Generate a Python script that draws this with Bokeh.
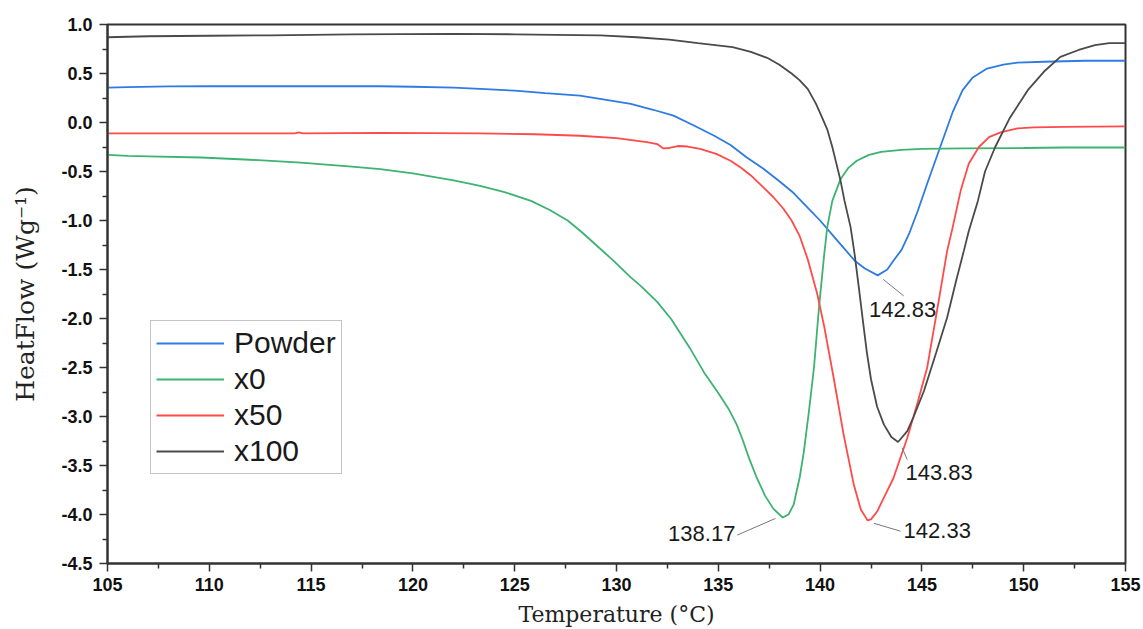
from bokeh.plotting import figure
from bokeh.models import FixedTicker, Range1d, ColumnDataSource
from bokeh.core.properties import value
from bokeh.embed import file_html
from bokeh.resources import INLINE

# ---------------- data ----------------
powder_t = [105, 106, 108, 110, 115, 118.4, 120, 122, 123.3, 125, 126.5, 128.2, 129.5, 130.7, 131.8,
            132.8, 133.8, 134.8, 135.6, 136.4, 137.2, 138.0, 138.7, 139.4, 140.0, 140.7, 141.2, 141.7,
            142.2, 142.83, 143.3, 143.6, 144.0, 144.4, 144.8, 145.3, 145.9, 146.5, 147.0, 147.5, 148.2,
            149.0, 149.7, 151, 152, 153, 155]
powder_v = [0.355, 0.36, 0.368, 0.37, 0.37, 0.37, 0.365, 0.355, 0.343, 0.325, 0.30, 0.274, 0.23, 0.19, 0.13,
            0.07, -0.03, -0.135, -0.23, -0.357, -0.47, -0.60, -0.72, -0.87, -1.00, -1.17, -1.29, -1.41,
            -1.49, -1.56, -1.50, -1.41, -1.30, -1.12, -0.90, -0.60, -0.25, 0.10, 0.33, 0.46, 0.55,
            0.59, 0.61, 0.62, 0.625, 0.63, 0.63]

x0_t = [105, 106, 107, 109.6, 112, 114.5, 117, 118.4, 120, 122, 123.3, 124.5, 125.8, 126.7, 127.6, 128.3,
        129.05, 129.9, 130.7, 131.2, 132.0, 132.7, 133.6, 134.3, 135.0, 135.5, 135.9, 136.2, 136.5, 136.9,
        137.3, 137.7, 138.0, 138.17, 138.45, 138.7, 139.0, 139.2, 139.45, 139.7, 139.94, 140.2, 140.35,
        140.6, 141.0, 141.4, 141.8, 142.4, 143.0, 144.0, 145, 147, 150, 152, 155]
x0_v = [-0.33, -0.34, -0.345, -0.357, -0.38, -0.41, -0.45, -0.475, -0.52, -0.59, -0.646, -0.71, -0.80, -0.89,
        -1.00, -1.12, -1.26, -1.42, -1.58, -1.67, -1.83, -2.01, -2.30, -2.55, -2.76, -2.92, -3.08, -3.24,
        -3.42, -3.63, -3.81, -3.94, -4.00, -4.03, -4.00, -3.90, -3.62, -3.36, -2.95, -2.50, -1.90, -1.35,
        -1.07, -0.80, -0.58, -0.46, -0.39, -0.33, -0.30, -0.28, -0.27, -0.265, -0.26, -0.255, -0.255]

x50_t = [105, 110, 114.2, 114.4, 114.6, 118.4, 123.3, 126, 128.2, 130, 131.5, 132.0, 132.3, 132.6, 133.0,
         133.5, 134.1, 134.9, 135.6, 136.1, 136.6, 137.2, 137.7, 138.2, 138.6, 139.0, 139.4, 139.86, 140.2,
         140.67, 141.16, 141.66, 142.0, 142.33, 142.5, 142.8, 143.2, 143.6, 144.28, 144.8, 145.26,
         145.8, 146.24, 146.5, 146.9, 147.3, 147.8, 148.3, 148.86, 149.7, 150.5, 152, 155]
x50_v = [-0.11, -0.11, -0.11, -0.10, -0.11, -0.105, -0.11, -0.12, -0.135, -0.16, -0.20, -0.22, -0.265, -0.26,
         -0.24, -0.245, -0.27, -0.32, -0.39, -0.46, -0.54, -0.66, -0.76, -0.88, -1.00, -1.16, -1.40, -1.75,
         -2.08, -2.61, -3.19, -3.70, -3.95, -4.06, -4.05, -3.97, -3.80, -3.63, -3.22, -2.85, -2.50,
         -1.85, -1.31, -1.08, -0.70, -0.42, -0.25, -0.15, -0.10, -0.06, -0.05, -0.045, -0.04]

x100_t = [105, 106, 107, 110, 113, 117, 122, 125, 127, 129.2, 131, 132.6, 134, 135.7, 136.6, 137.4, 138.0,
          138.6, 139.0, 139.4, 139.8, 140.1, 140.35, 140.6, 140.8, 141.0, 141.2, 141.5, 141.7, 141.9, 142.1,
          142.3, 142.5, 142.8, 143.13, 143.5, 143.83, 144.28, 144.6, 145.1, 145.7, 146.24, 146.7, 147.06,
          147.3, 147.75, 148.1, 148.6, 149.3, 150.2, 151.0, 151.8, 152.7, 153.5, 154.2, 155]
x100_v = [0.87, 0.875, 0.88, 0.885, 0.89, 0.90, 0.905, 0.90, 0.895, 0.89, 0.87, 0.845, 0.81, 0.77, 0.72, 0.66,
          0.59, 0.50, 0.43, 0.34, 0.19, 0.05, -0.07, -0.25, -0.42, -0.59, -0.80, -1.07, -1.35, -1.68, -2.02,
          -2.35, -2.62, -2.90, -3.08, -3.21, -3.26, -3.15, -3.00, -2.74, -2.35, -1.99, -1.60, -1.31,
          -1.11, -0.80, -0.50, -0.25, 0.04, 0.33, 0.52, 0.67, 0.74, 0.79, 0.81, 0.81]

series_names = ["Powder", "x0", "x50", "x100"]
series_colors = ["#2e7be3", "#3cb371", "#ff4a4a", "#4a4a4a"]

# peak annotations
peak_labels = ["142.83", "138.17", "142.33", "143.83"]
peak_t = [142.83, 138.17, 142.33, 143.83]
peak_v = [-1.56, -4.03, -4.06, -3.26]

x_ticks = [105, 110, 115, 120, 125, 130, 135, 140, 145, 150, 155]
x_tick_labels = ["105", "110", "115", "120", "125", "130", "135", "140", "145", "150", "155"]
y_ticks = [1.0, 0.5, 0.0, -0.5, -1.0, -1.5, -2.0, -2.5, -3.0, -3.5, -4.0, -4.5]
y_tick_labels = ["1.0", "0.5", "0.0", "-0.5", "-1.0", "-1.5", "-2.0", "-2.5", "-3.0", "-3.5", "-4.0", "-4.5"]

# ---------------- figure ----------------
W, H = 1143, 629
p = figure(width=W, height=H, output_backend="svg", toolbar_location=None,
           x_range=Range1d(105, 155), y_range=Range1d(-4.5, 1.0),
           min_border_left=107, min_border_right=18, min_border_top=24, min_border_bottom=66)
p.grid.visible = False
p.background_fill_color = "white"
p.border_fill_color = "white"
p.outline_line_color = "#333333"
p.outline_line_width = 2

p.xaxis.ticker = FixedTicker(ticks=x_ticks, minor_ticks=[t + 2.5 for t in x_ticks[:-1]])
p.yaxis.ticker = FixedTicker(ticks=y_ticks, minor_ticks=[t - 0.25 for t in y_ticks[:-1]])
p.xaxis.major_label_overrides = {t: l for t, l in zip(x_ticks, x_tick_labels)}
p.yaxis.major_label_overrides = {t: l for t, l in zip(y_ticks, y_tick_labels)}

for ax in (p.xaxis[0], p.yaxis[0]):
    ax.axis_line_color = "#333333"
    ax.axis_line_width = 2
    ax.major_tick_line_color = "#333333"
    ax.minor_tick_line_color = "#333333"
    ax.major_tick_line_width = 1.5
    ax.minor_tick_line_width = 1.5
    ax.major_tick_out = 8
    ax.major_tick_in = 0
    ax.minor_tick_out = 5
    ax.minor_tick_in = 0
    ax.major_label_text_font = "Liberation Sans"
    ax.major_label_text_font_style = "bold"
    ax.major_label_text_font_size = "18px"
    ax.major_label_text_color = "#111111"
    ax.axis_label_text_font = "DejaVu Serif"
    ax.axis_label_text_font_style = "normal"
    ax.axis_label_text_color = "#222222"

p.xaxis.axis_label = "Temperature (°C)"
p.yaxis.axis_label = "HeatFlow (Wg⁻¹)"
p.xaxis.axis_label_text_font_size = "22px"
p.yaxis.axis_label_text_font_size = "25px"
p.xaxis.major_label_standoff = 6
p.yaxis.major_label_standoff = 7
p.xaxis.axis_label_standoff = 8
p.yaxis.axis_label_standoff = 18

data = [(powder_t, powder_v), (x0_t, x0_v), (x50_t, x50_v), (x100_t, x100_v)]
for (t, v), name, col in zip(data, series_names, series_colors):
    p.line(t, v, line_color=col, line_width=1.8, legend_label=name)

# leader lines and labels (offsets relative to peaks, in data units)
lead_start_dx = [0.27, -0.36, 0.31, 0.20]
lead_start_dy = [-0.04, -0.01, -0.03, -0.06]
lead_end_dx = [1.28, -2.24, 1.62, 0.45]
lead_end_dy = [-0.21, -0.18, -0.11, -0.18]
label_dx = [1.22, -2.33, 1.77, 0.36]
label_dy = [-0.35, -0.16, -0.10, -0.31]
label_align = ["center", "right", "left", "left"]

x0s = [a + b for a, b in zip(peak_t, lead_start_dx)]
y0s = [a + b for a, b in zip(peak_v, lead_start_dy)]
x1s = [a + b for a, b in zip(peak_t, lead_end_dx)]
y1s = [a + b for a, b in zip(peak_v, lead_end_dy)]
p.segment(x0=x0s, y0=y0s, x1=x1s, y1=y1s, line_color="#777777", line_width=1)

lsrc = ColumnDataSource(dict(
    x=[a + b for a, b in zip(peak_t, label_dx)],
    y=[a + b for a, b in zip(peak_v, label_dy)],
    text=peak_labels, align=label_align))
p.text(x="x", y="y", text="text", source=lsrc, text_align="align", text_baseline="middle",
       text_font=value("Liberation Sans"), text_font_size="22px", text_color="#1a1a1a")

lg = p.legend[0]
lg.location = (43, 89)
lg.border_line_color = "#8a8a8a"
lg.border_line_width = 1
lg.background_fill_alpha = 1.0
lg.label_text_font = "Liberation Sans"
lg.label_text_font_size = "30px"
lg.label_text_color = "#1a1a1a"
lg.glyph_width = 68
lg.glyph_height = 20
lg.label_standoff = 10
lg.padding = 5
lg.spacing = 2
lg.margin = 0

open("out.html", "w").write(file_html(p, INLINE))
